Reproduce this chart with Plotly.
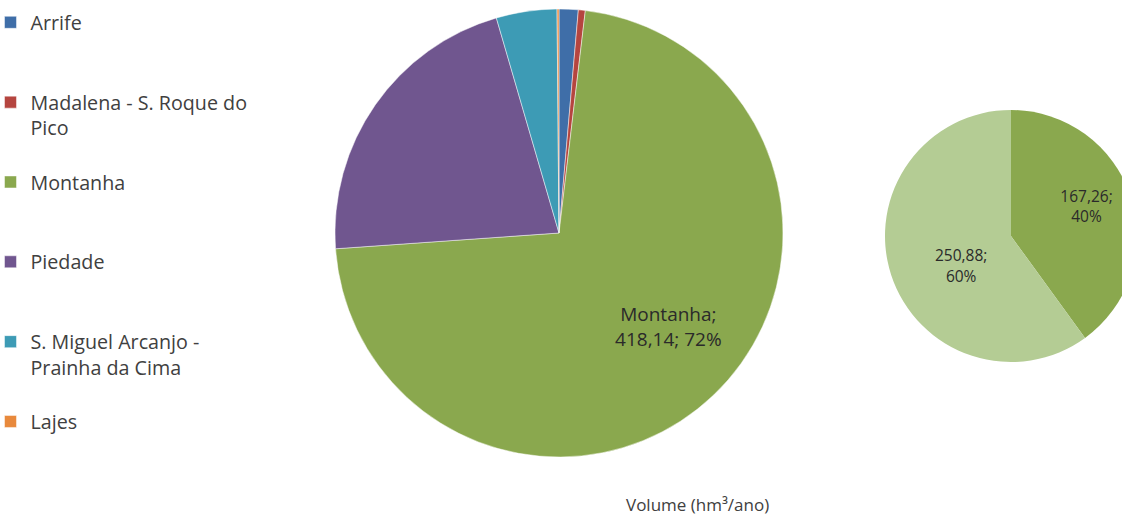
import plotly.graph_objects as go

# Volume per area (hm3/ano)
areas = ["Arrife", "Madalena - S. Roque do<br>Pico", "Montanha", "Piedade",
         "S. Miguel Arcanjo -<br>Prainha da Cima", "Lajes"]
volumes = [8.0, 2.9, 418.14, 125.5, 25.4, 0.8]
area_colors = ["#3F6EA8", "#B5453F", "#8AA84E", "#70568F", "#3D9BB5", "#E8893C"]

# Split of the Montanha volume
montanha_parts = ["Parte 1", "Parte 2"]
montanha_values = [167.26, 250.88]
montanha_colors = ["#8AA84E", "#B4CC94"]

W, H = 1140, 517
FONT = "Open Sans"

def nb(n):
    return "\u00a0" * n

def pad_lines(label, total=3):
    n = label.count("<br>") + 1
    return label + "<br> " * (total - n)

legend_labels = [pad_lines(a) for a in areas]
main_text = ["", "",
             " <br>" + nb(13) + "Montanha;<br>" + nb(13) + "%{value:.2f}; %{percent:.0%}",
             "", "", ""]
part_text = [
    nb(7) + "%{value:.2f};<br>" + nb(7) + "%{percent:.0%}<br> ",
    " <br>" + nb(5) + "%{value:.2f};<br>" + nb(5) + "%{percent:.0%}",
]

fig = go.Figure()

fig.add_trace(go.Pie(
    labels=legend_labels,
    values=volumes,
    sort=False,
    direction="clockwise",
    rotation=0,
    marker=dict(colors=area_colors, line=dict(color="rgba(255,255,255,0.6)", width=0.8)),
    texttemplate=main_text,
    textposition="inside",
    insidetextorientation="horizontal",
    textfont=dict(family=FONT, size=19, color="#2a2a2a"),
    domain=dict(x=[335 / W, 783 / W], y=[1 - 457 / H, 1 - 9 / H]),
    hoverinfo="label+value+percent",
    showlegend=True,
))

fig.add_trace(go.Pie(
    labels=montanha_parts,
    values=montanha_values,
    sort=False,
    direction="clockwise",
    rotation=0,
    marker=dict(colors=montanha_colors, line=dict(width=0)),
    texttemplate=part_text,
    textposition="inside",
    insidetextorientation="horizontal",
    textfont=dict(family=FONT, size=15.5, color="#2a2a2a"),
    domain=dict(x=[885 / W, 1137 / W], y=[1 - 362 / H, 1 - 110 / H]),
    showlegend=False,
))

fig.add_annotation(
    text="Volume (hm³/ano)", x=697 / W, y=1 - 504 / H, xref="paper", yref="paper",
    xanchor="center", yanchor="middle",
    showarrow=False, font=dict(family=FONT, size=17, color="#404040"),
)

fig.update_layout(
    width=W, height=H,
    margin=dict(l=0, r=0, t=0, b=0, autoexpand=False),
    paper_bgcolor="white",
    plot_bgcolor="white",
    separators=",.",
    font=dict(family=FONT, color="#404040"),
    legend=dict(
        x=-9.5 / W, y=1 - 3 / H, xanchor="left", yanchor="top",
        valign="top", itemwidth=30,
        font=dict(family=FONT, size=19.7, color="#404040"),
        bgcolor="rgba(0,0,0,0)",
    ),
)

fig.write_html("out.html", post_script="document.body.style.overflow='hidden';")
